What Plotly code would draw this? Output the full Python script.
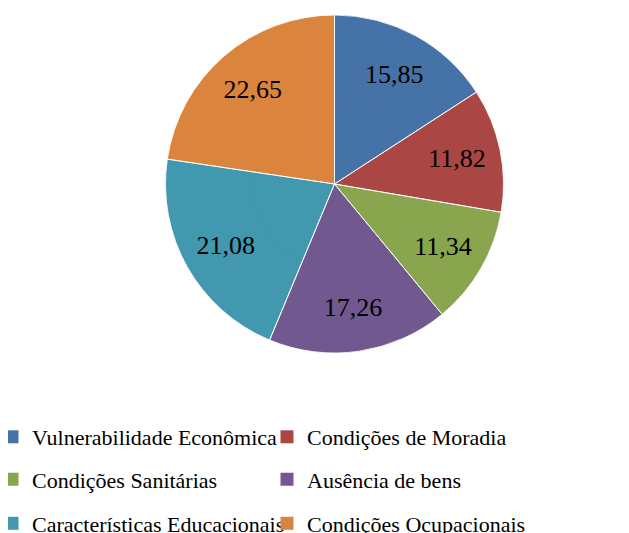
import plotly.graph_objects as go

categories = ["Vulnerabilidade Econômica", "Condições de Moradia", "Condições Sanitárias",
              "Ausência de bens", "Características Educacionais", "Condições Ocupacionais"]
values = [15.85, 11.82, 11.34, 17.26, 21.08, 22.65]
value_labels = ["15,85", "11,82", "11,34", "17,26", "21,08", "22,65"]
colors = ["#4572A7", "#AA4643", "#89A54E", "#71588F", "#4198AF", "#DB843D"]

# page body has an 8px margin, so the figure is drawn 8px smaller and shifted
OFF = 8
W, H = 629 - OFF, 533 - OFF
FONT = "Liberation Serif"
CX, CY, R = 334.5 - OFF, 184.0 - OFF, 169.0
HOLE = 0.48

def dom(rad):
    return dict(x=[(CX - rad) / W, (CX + rad) / W], y=[1 - (CY + rad) / H, 1 - (CY - rad) / H])

fig = go.Figure()
# outer ring carries the value labels (placed in the outer part like the original)
fig.add_trace(go.Pie(
    labels=categories, values=values, text=value_labels, textinfo="text",
    textposition="inside", insidetextorientation="horizontal",
    sort=False, direction="clockwise", rotation=0, hole=HOLE,
    marker=dict(colors=colors, line=dict(width=0)),
    textfont=dict(family=FONT, size=26, color="black"),
    domain=dom(R), showlegend=False, hoverinfo="label+value",
))
# inner disc fills the center with the same slices
fig.add_trace(go.Pie(
    labels=categories, values=values, textinfo="none",
    sort=False, direction="clockwise", rotation=0,
    marker=dict(colors=colors, line=dict(width=0)),
    domain=dom(R * HOLE + 1.5), showlegend=False, hoverinfo="skip",
))
# thin white slice separators over the whole pie
fig.add_trace(go.Pie(
    labels=categories, values=values, textinfo="none",
    sort=False, direction="clockwise", rotation=0,
    marker=dict(colors=["rgba(0,0,0,0)"] * len(values), line=dict(color="white", width=0.8)),
    domain=dom(R), showlegend=False, hoverinfo="skip",
))

col_x = [-16, 259]
row_y = [429, 471.5, 515.5]
legend_layouts = {}
for i, (cat, col) in enumerate(zip(categories, colors)):
    key = "legend" if i == 0 else f"legend{i+1}"
    fig.add_trace(go.Scatter(
        x=[None], y=[None], mode="markers", name=cat, legend=key,
        marker=dict(symbol="square", size=13, color=col), showlegend=True,
    ))
    r, c = divmod(i, 2)
    legend_layouts[key] = dict(
        x=col_x[c] / W, y=1 - row_y[r] / H, xanchor="left", yanchor="middle",
        xref="paper", yref="paper", bgcolor="rgba(0,0,0,0)", borderwidth=0,
        font=dict(family=FONT, size=22, color="black"),
    )

fig.update_layout(
    width=W, height=H, autosize=False,
    margin=dict(l=0, r=0, t=0, b=0, autoexpand=False),
    font=dict(family=FONT, size=22, color="black"),
    paper_bgcolor="white", plot_bgcolor="white",
    xaxis=dict(visible=False), yaxis=dict(visible=False),
    **legend_layouts,
)
fig.write_html("out.html")
